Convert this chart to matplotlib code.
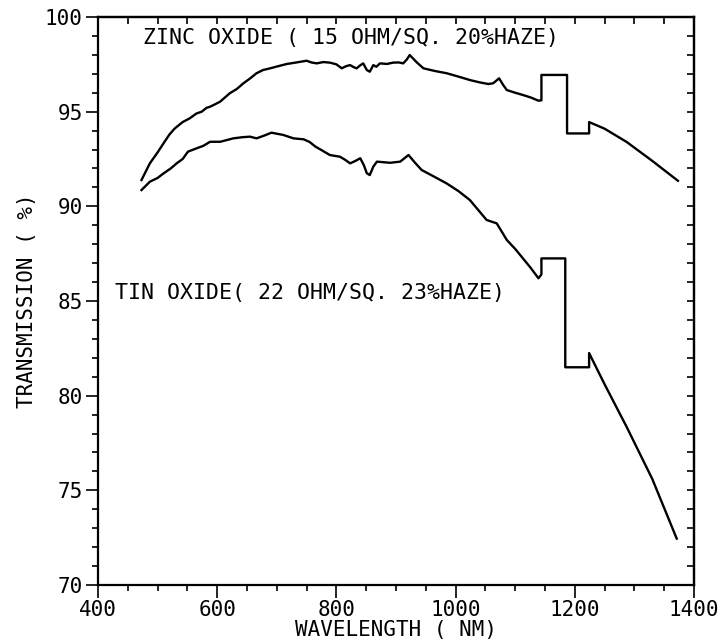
import matplotlib
matplotlib.use("Agg")
import matplotlib.pyplot as plt
from matplotlib.ticker import MultipleLocator, NullFormatter

# Zinc oxide curve (wavelength nm, transmission %)
zn_wl = [473, 487, 500, 510, 520, 529, 542, 554, 565, 574, 582, 588, 597, 605, 613,
         621, 633, 644, 655, 666, 677, 689, 702, 717, 733, 750, 758, 767, 778, 789,
         800, 809, 816, 823, 829, 834, 840, 845, 851, 856, 862, 867, 873, 885, 895,
         905, 912, 918, 923, 935, 946, 965, 985, 1005, 1024, 1040, 1055, 1063, 1073,
         1080, 1086, 1100, 1113, 1126, 1139, 1144, 1144, 1187, 1187, 1224, 1224,
         1250, 1287, 1330, 1373]
zn_tr = [91.39, 92.27, 92.85, 93.33, 93.8, 94.12, 94.45, 94.65, 94.9, 95.0, 95.2,
         95.26, 95.4, 95.53, 95.75, 95.97, 96.2, 96.5, 96.75, 97.03, 97.2, 97.29,
         97.4, 97.52, 97.6, 97.69, 97.6, 97.55, 97.62, 97.59, 97.5, 97.29, 97.4,
         97.46, 97.35, 97.29, 97.45, 97.55, 97.2, 97.11, 97.46, 97.37, 97.55, 97.52,
         97.59, 97.6, 97.55, 97.75, 97.99, 97.6, 97.29, 97.15, 97.03, 96.85, 96.67,
         96.55, 96.46, 96.5, 96.76, 96.4, 96.14, 96.0, 95.88, 95.75, 95.58, 95.6,
         96.94, 96.94, 93.85, 93.85, 94.45, 94.1, 93.4, 92.4, 91.35]

# Tin oxide curve
sn_wl = [473, 487, 500, 510, 522, 532, 542, 551, 566, 577, 588, 605, 627, 642, 655,
         666, 680, 691, 711, 728, 745, 755, 765, 775, 789, 806, 815, 823, 832, 840,
         846, 851, 856, 862, 868, 890, 907, 921, 932, 943, 965, 985, 1005, 1024,
         1052, 1069, 1086, 1100, 1113, 1126, 1139, 1144, 1144, 1184, 1184, 1224,
         1224, 1250, 1287, 1330, 1371]
sn_tr = [90.86, 91.3, 91.5, 91.74, 92.0, 92.27, 92.5, 92.89, 93.07, 93.2, 93.41,
         93.41, 93.59, 93.65, 93.68, 93.59, 93.75, 93.89, 93.77, 93.59, 93.54, 93.4,
         93.15, 92.97, 92.71, 92.62, 92.45, 92.27, 92.4, 92.54, 92.18, 91.75, 91.65,
         92.1, 92.36, 92.3, 92.36, 92.71, 92.3, 91.92, 91.55, 91.21, 90.8, 90.33,
         89.28, 89.1, 88.22, 87.75, 87.25, 86.75, 86.2, 86.4, 87.25, 87.25, 81.5,
         81.5, 82.25, 80.6, 78.35, 75.6, 72.45]

zn_label = "ZINC OXIDE ( 15 OHM/SQ. 20%HAZE)"
sn_label = "TIN OXIDE( 22 OHM/SQ. 23%HAZE)"
xlabel = "WAVELENGTH ( NM)"
ylabel = "TRANSMISSION ( %)"

FONT = "DejaVu Sans Mono"

fig = plt.figure(figsize=(7.24, 6.42), dpi=100)
ax = fig.add_axes([98/724, 57/642, 596/724, 568/642])

ax.plot(zn_wl, zn_tr, color="black", lw=1.7)
ax.plot(sn_wl, sn_tr, color="black", lw=1.7)

ax.set_xlim(400, 1400)
ax.set_ylim(70, 100)
ax.xaxis.set_major_locator(MultipleLocator(200))
ax.xaxis.set_minor_locator(MultipleLocator(50))
ax.yaxis.set_major_locator(MultipleLocator(5))
ax.yaxis.set_minor_locator(MultipleLocator(1))
ax.tick_params(which="both", direction="out", width=1.2, labelsize=15)
ax.tick_params(which="major", length=9, pad=2)
ax.tick_params(which="minor", length=4.5)
for lab in ax.get_xticklabels() + ax.get_yticklabels():
    lab.set_family(FONT)

# top and right ticks point inward
top = ax.secondary_xaxis("top")
top.xaxis.set_major_locator(MultipleLocator(50))
top.xaxis.set_major_formatter(NullFormatter())
top.tick_params(direction="in", length=5, width=1.2)
right = ax.secondary_yaxis("right")
right.yaxis.set_major_locator(MultipleLocator(1))
right.yaxis.set_major_formatter(NullFormatter())
right.tick_params(direction="in", length=5, width=1.2)

for s in list(ax.spines.values()) + [top.spines["top"], right.spines["right"]]:
    s.set_linewidth(1.6)

ax.text(475, 98.9, zn_label, fontsize=15.5, family=FONT, va="center", ha="left")
ax.text(429, 85.4, sn_label, fontsize=15.5, family=FONT, va="center", ha="left")
ax.set_xlabel(xlabel, fontsize=15, family=FONT, labelpad=0)
ax.set_ylabel(ylabel, fontsize=15, family=FONT, labelpad=6)

fig.savefig("out.png", dpi=100)
